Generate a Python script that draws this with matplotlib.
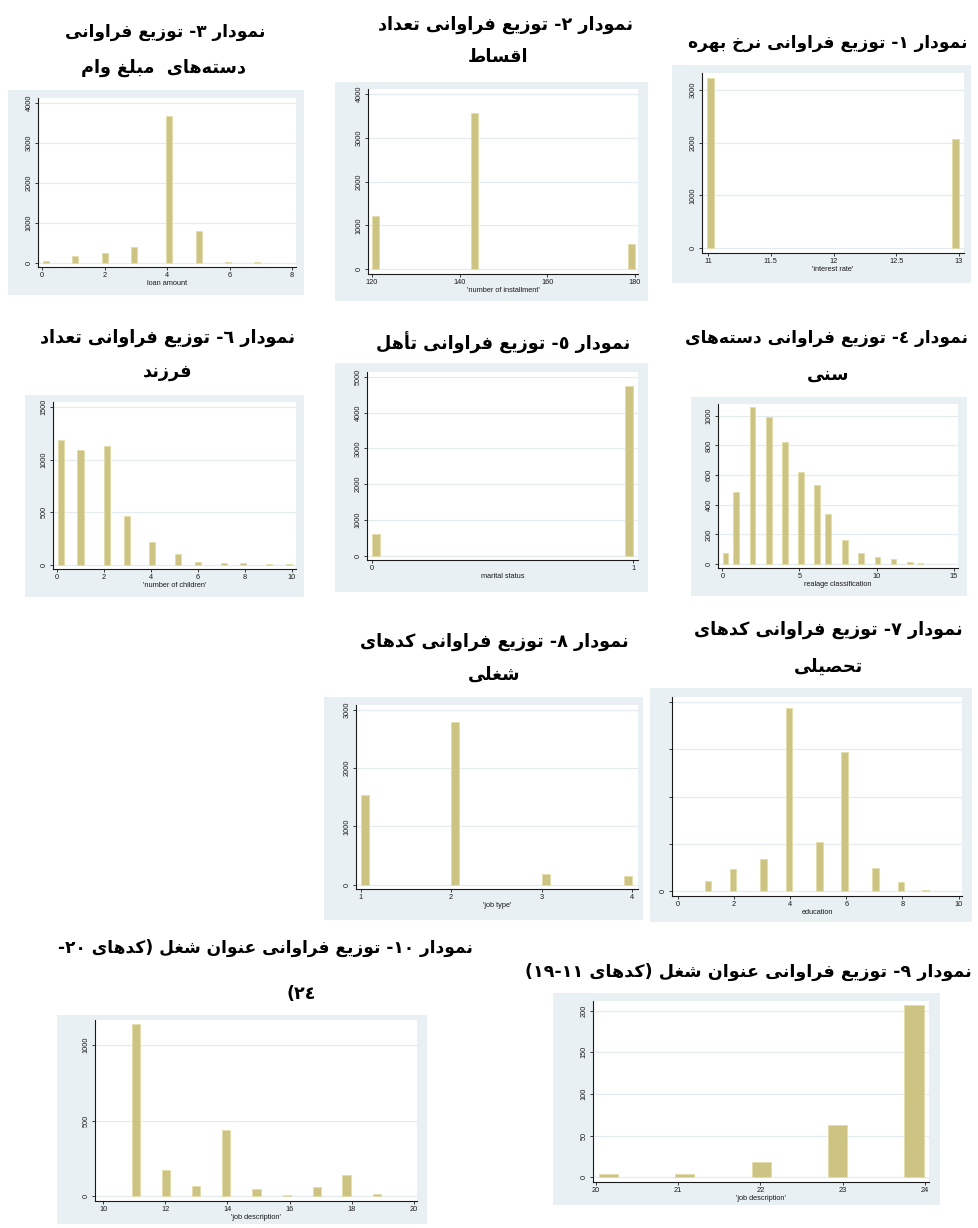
import re
import numpy as np
import matplotlib
matplotlib.use('Agg')
import matplotlib.pyplot as plt
from matplotlib import font_manager
from matplotlib.ft2font import FT2Font
from matplotlib.patches import Rectangle
from matplotlib.font_manager import FontProperties

# ---------------- data ----------------
rate_x = [11.02, 12.975]
rate_n = [3240, 2080]

inst_x = [120.9, 143.4, 179.2]
inst_n = [1220, 3560, 570]

loan_x = [0.12, 1.06, 2.0, 2.93, 4.07, 5.01, 5.94, 6.89]
loan_n = [55, 170, 255, 390, 3670, 800, 35, 20]

age_x = [0.2, 0.9, 1.95, 3.0, 4.05, 5.1, 6.15, 6.85, 7.95, 9.0, 10.05, 11.1, 12.15, 12.85]
age_n = [74, 483, 1056, 991, 825, 618, 530, 335, 164, 74, 49, 34, 13, 9]

mar_x = [0.015, 0.985]
mar_n = [600, 4760]

child_x = [0.18, 1.0, 2.13, 2.96, 4.06, 5.15, 5.99, 7.09, 7.93, 9.04, 9.86]
child_n = [1184, 1095, 1133, 460, 219, 102, 29, 19, 16, 4, 6]

edu_x = [1.08, 1.97, 3.06, 3.96, 5.05, 5.94, 7.05, 7.95, 8.81]
edu_n = [110, 233, 336, 1936, 523, 1470, 244, 99, 11]

jobtype_x = [1.045, 2.047, 3.048, 3.96]
jobtype_n = [1543, 2789, 183, 143]

jobdesc_hi_x = [20.15, 21.08, 22.01, 22.94, 23.87]
jobdesc_hi_n = [4.4, 4.4, 18.4, 62.5, 206.4]

jobdesc_lo_x = [11.05, 12.02, 12.98, 13.95, 14.94, 15.91, 16.88, 17.84, 18.82]
jobdesc_lo_n = [1137, 175, 66, 436, 44, 9, 62, 137, 11]

xlabels = ["'interest rate'", "'number of installment'", "loan amount",
           "realage classification", "marital status", "'number of children'",
           "education", "'job type'", "'job description'", "'job description'"]

titles = [
    ["نمودار ١- توزیع فراوانی نرخ بهره"],
    ["نمودار ٢- توزیع فراوانی تعداد", "اقساط"],
    ["نمودار ٣- توزیع فراوانی", "دسته\u200cهای  مبلغ وام"],
    ["نمودار ٤- توزیع فراوانی دسته\u200cهای", "سنی"],
    ["نمودار ٥- توزیع فراوانی تأهل"],
    ["نمودار ٦- توزیع فراوانی تعداد", "فرزند"],
    ["نمودار ٧- توزیع فراوانی کدهای", "تحصیلی"],
    ["نمودار ٨- توزیع فراوانی کدهای", "شغلی"],
    ["نمودار ٩- توزیع فراوانی عنوان شغل (کدهای ١١-١٩)"],
    ["نمودار ١٠- توزیع فراوانی عنوان شغل (کدهای ٢٠-", "٢٤)"],
]

# ---------------- font for Persian text ----------------
def find_arabic_font():
    need = [0xFEE1, 0xFE8D, 0x0661, 0xFEF3, 0xFEB3]
    best = None
    for f in font_manager.fontManager.ttflist:
        try:
            cmap = FT2Font(f.fname).get_charmap()
        except Exception:
            continue
        if not all(c in cmap for c in need):
            continue
        fn = f.fname.replace(' ', '')
        w = f.weight
        if not isinstance(w, int):
            w = 700 if 'bold' in str(w).lower() else 400
        italic = ('Oblique' in fn) or ('Italic' in fn)
        score = (not italic, w >= 600 or 'Bold' in fn, 'DejaVuSans' in fn and 'Mono' not in fn,
                 'Condensed' not in fn)
        if best is None or score > best[0]:
            best = (score, f.fname, cmap)
    return best

_fb = find_arabic_font()
AR_FONT = _fb[1] if _fb else None
CMAP = _fb[2] if _fb else {}

FORMS = {
    '\u0627': ('\uFE8D', '\uFE8E', None, None),
    '\u0623': ('\uFE83', '\uFE84', None, None),
    '\u0628': ('\uFE8F', '\uFE90', '\uFE91', '\uFE92'),
    '\u062A': ('\uFE95', '\uFE96', '\uFE97', '\uFE98'),
    '\u062D': ('\uFEA1', '\uFEA2', '\uFEA3', '\uFEA4'),
    '\u062E': ('\uFEA5', '\uFEA6', '\uFEA7', '\uFEA8'),
    '\u062F': ('\uFEA9', '\uFEAA', None, None),
    '\u0631': ('\uFEAD', '\uFEAE', None, None),
    '\u0632': ('\uFEAF', '\uFEB0', None, None),
    '\u0633': ('\uFEB1', '\uFEB2', '\uFEB3', '\uFEB4'),
    '\u0634': ('\uFEB5', '\uFEB6', '\uFEB7', '\uFEB8'),
    '\u0635': ('\uFEB9', '\uFEBA', '\uFEBB', '\uFEBC'),
    '\u0637': ('\uFEC1', '\uFEC2', '\uFEC3', '\uFEC4'),
    '\u0639': ('\uFEC9', '\uFECA', '\uFECB', '\uFECC'),
    '\u063A': ('\uFECD', '\uFECE', '\uFECF', '\uFED0'),
    '\u0641': ('\uFED1', '\uFED2', '\uFED3', '\uFED4'),
    '\u0642': ('\uFED5', '\uFED6', '\uFED7', '\uFED8'),
    '\u0644': ('\uFEDD', '\uFEDE', '\uFEDF', '\uFEE0'),
    '\u0645': ('\uFEE1', '\uFEE2', '\uFEE3', '\uFEE4'),
    '\u0646': ('\uFEE5', '\uFEE6', '\uFEE7', '\uFEE8'),
    '\u0647': ('\uFEE9', '\uFEEA', '\uFEEB', '\uFEEC'),
    '\u0648': ('\uFEED', '\uFEEE', None, None),
}
if all(c in CMAP for c in (0xFB8E, 0xFB8F, 0xFB90, 0xFB91)):
    FORMS['\u06A9'] = ('\uFB8E', '\uFB8F', '\uFB90', '\uFB91')
else:
    FORMS['\u06A9'] = ('\uFED9', '\uFEDA', '\uFEDB', '\uFEDC')
if all(c in CMAP for c in (0xFBFC, 0xFBFD, 0xFBFE, 0xFBFF)):
    FORMS['\u06CC'] = ('\uFBFC', '\uFBFD', '\uFBFE', '\uFBFF')
else:
    FORMS['\u06CC'] = ('\uFEEF', '\uFEF0', '\uFEF3', '\uFEF4')


def shape(s):
    out = []
    n = len(s)
    for i, ch in enumerate(s):
        if ch not in FORMS:
            out.append(ch)
            continue
        prev = s[i - 1] if i > 0 else None
        nxt = s[i + 1] if i < n - 1 else None
        jp = prev in FORMS and FORMS[prev][2] is not None
        jn = FORMS[ch][2] is not None and nxt in FORMS
        iso, fin, ini, med = FORMS[ch]
        if jp and jn:
            out.append(med)
        elif jp:
            out.append(fin)
        elif jn:
            out.append(ini)
        else:
            out.append(iso)
    return ''.join(c for c in out if c != '\u200c')


def visual(s):
    tokens = re.findall(r'[\u0660-\u06690-9]+|.', shape(s))
    mirror = {'(': ')', ')': '('}
    return ''.join(mirror.get(t, t) for t in reversed(tokens))


# ---------------- layout (pixels in a 979x1228 canvas) ----------------
W, H = 979, 1228
BG = '#E9F0F3'
BAR = '#CDC383'
BAR_EDGE = '#E3DCAA'
GRID = '#E4ECEF'

plt.rcParams['font.family'] = ['Liberation Sans', 'DejaVu Sans']

fig = plt.figure(figsize=(W / 100, H / 100), dpi=100)
fig.patch.set_facecolor('white')

panels = [
    dict(bg=(672, 65, 971, 283), ax=(702, 73, 964, 253), x=rate_x, n=rate_n, w=0.058,
         xlim=(10.952, 13.04), ylim=(-95, 3326), xt=[11, 11.5, 12, 12.5, 13], yt=[0, 1000, 2000, 3000]),
    dict(bg=(335, 82, 648, 301), ax=(368, 89, 638, 274), x=inst_x, n=inst_n, w=1.6,
         xlim=(119.1, 180.75), ylim=(-107, 4114), xt=[120, 140, 160, 180], yt=[0, 1000, 2000, 3000, 4000]),
    dict(bg=(8, 90, 304, 295), ax=(38, 98, 296, 267), x=loan_x, n=loan_n, w=0.19,
         xlim=(-0.138, 8.128), ylim=(-100, 4125), xt=[0, 2, 4, 6, 8], yt=[0, 1000, 2000, 3000, 4000]),
    dict(bg=(691, 397, 967, 596), ax=(718, 404, 958, 568), x=age_x, n=age_n, w=0.37,
         xlim=(-0.285, 15.28), ylim=(-27, 1079), xt=[0, 5, 10, 15], yt=[0, 200, 400, 600, 800, 1000]),
    dict(bg=(335, 363, 648, 592), ax=(367, 372, 638, 560), x=mar_x, n=mar_n, w=0.032,
         xlim=(-0.019, 1.019), ylim=(-120, 5140), xt=[0, 1], yt=[0, 1000, 2000, 3000, 4000, 5000]),
    dict(bg=(25, 395, 304, 597), ax=(53, 402, 296, 569), x=child_x, n=child_n, w=0.26,
         xlim=(-0.17, 10.17), ylim=(-41, 1548), xt=[0, 2, 4, 6, 8, 10], yt=[0, 500, 1000, 1500]),
    dict(bg=(650, 688, 972, 922), ax=(672, 697, 962, 896), x=edu_x, n=edu_n, w=0.24,
         xlim=(-0.2, 10.12), ylim=(-53, 2053), xt=[0, 2, 4, 6, 8, 10], yt=[0, 500, 1000, 1500, 2000],
         hide_y=True),
    dict(bg=(324, 697, 643, 920), ax=(356, 705, 638, 889), x=jobtype_x, n=jobtype_n, w=0.088,
         xlim=(0.948, 4.066), ylim=(-74, 3086), xt=[1, 2, 3, 4], yt=[0, 1000, 2000, 3000]),
    dict(bg=(553, 993, 940, 1205), ax=(593, 1001, 929, 1182), x=jobdesc_hi_x, n=jobdesc_hi_n, w=0.235,
         xlim=(19.964, 24.052), ylim=(-5.7, 211.6), xt=[20, 21, 22, 23, 24], yt=[0, 50, 100, 150, 200]),
    dict(bg=(57, 1015, 427, 1224), ax=(95, 1020, 417, 1201), x=jobdesc_lo_x, n=jobdesc_lo_n, w=0.27,
         xlim=(9.73, 20.11), ylim=(-33, 1166), xt=[10, 12, 14, 16, 18, 20], yt=[0, 500, 1000]),
]

# title line centres (px) and target widths (px)
title_pos = [
    [(828, 43, 287)],
    [(506, 25, 287), (498, 57, 50)],
    [(165, 32, 207), (163, 68, 162)],
    [(827, 338, 292), (828, 375, 40)],
    [(503, 343, 273)],
    [(168, 338, 267), (168, 372, 53)],
    [(828, 630, 280), (828, 667, 67)],
    [(494, 642, 282), (494, 675, 42)],
    [(748, 972, 457)],
    [(265, 948, 425), (301, 994, 37)],
]


def fmt(v):
    return str(int(v)) if float(v).is_integer() else str(v)


for i, p in enumerate(panels):
    x0, y0, x1, y1 = p['bg']
    fig.patches.append(Rectangle((x0 / W, 1 - y1 / H), (x1 - x0) / W, (y1 - y0) / H,
                                 transform=fig.transFigure, facecolor=BG, edgecolor='none', zorder=-10))
    a0, b0, a1, b1 = p['ax']
    ax = fig.add_axes([a0 / W, 1 - b1 / H, (a1 - a0) / W, (b1 - b0) / H])
    ax.set_zorder(1)
    ax.set_facecolor('white')
    for yv in p['yt']:
        ax.axhline(yv, color=GRID, lw=0.9, zorder=1)
    ax.bar(p['x'], p['n'], width=p['w'], color=BAR, edgecolor=BAR_EDGE, linewidth=0.6, zorder=3)
    ax.set_xlim(*p['xlim'])
    ax.set_ylim(*p['ylim'])
    ax.set_xticks(p['xt'])
    ax.set_xticklabels([fmt(v) for v in p['xt']])
    ax.set_yticks(p['yt'])
    if p.get('hide_y'):
        ax.set_yticklabels(['0'] + [''] * (len(p['yt']) - 1), rotation=90, va='center')
    else:
        ax.set_yticklabels([fmt(v) for v in p['yt']], rotation=90, va='center')
    for s in ('top', 'right'):
        ax.spines[s].set_visible(False)
    for s in ('left', 'bottom'):
        ax.spines[s].set_linewidth(0.8)
        ax.spines[s].set_color('#1a1a1a')
    ax.tick_params(axis='both', length=2.2, width=0.6, labelsize=5.3, colors='#1a1a1a')
    ax.tick_params(axis='x', pad=1.2)
    ax.tick_params(axis='y', pad=1.6)
    ax.set_xlabel(xlabels[i], fontsize=5.3, labelpad=0.6, color='#1a1a1a')

# titles
base = 12.0
if AR_FONT:
    fp = FontProperties(fname=AR_FONT, size=base)
else:
    fp = FontProperties(family='DejaVu Sans', weight='bold', size=base)
text_objs = []
for lines, poss in zip(titles, title_pos):
    for s, (cx, cy, tw) in zip(lines, poss):
        t = fig.text(cx / W, 1 - cy / H, visual(s), fontproperties=fp, ha='center', va='center',
                     color='black')
        text_objs.append((t, tw))

renderer = fig.canvas.get_renderer()
measured = [(t, tw, t.get_window_extent(renderer).width) for t, tw in text_objs]
ratios = [tw / mw for t, tw, mw in measured if tw >= 200]
gscale = float(np.median(ratios))
for t, tw, mw in measured:
    sc = gscale
    if tw >= 200:
        sc = min(gscale, tw / mw) * 0.97
    else:
        sc = gscale * 0.97
    t.set_fontsize(base * sc)

fig.savefig('out.png', dpi=100, facecolor='white')
